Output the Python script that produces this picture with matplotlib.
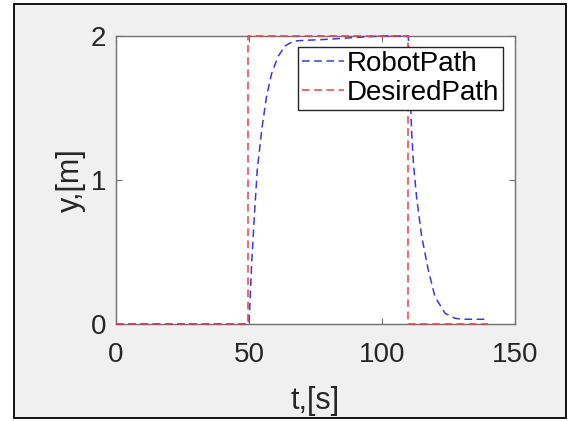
import matplotlib
matplotlib.use("Agg")
import matplotlib.pyplot as plt
from matplotlib.patches import Rectangle

# values
robot_t = [0, 50.0, 51.0, 52.0, 53.1, 54.8, 56.6, 58.5, 61.0, 63.5, 66.7, 71.1, 77.4,
           82.0, 90.0, 100.0, 106.0, 109.9, 111.1, 111.8, 113.0, 114.9, 117.4, 119.9,
           123.7, 127.4, 130.0, 140.0]
robot_y = [0, 0.0, 0.42, 0.745, 1.07, 1.35, 1.58, 1.74, 1.86, 1.93, 1.965, 1.97, 1.975,
           1.98, 1.99, 2.0, 2.0, 2.0, 1.35, 1.12, 0.88, 0.61, 0.375, 0.19,
           0.074, 0.04, 0.033, 0.033]
desired_t = [0, 49.6, 49.6, 109.7, 109.7, 140.0]
desired_y = [0, 0, 2, 2, 0, 0]

xticks = [0, 50, 100, 150]
yticks = [0, 1, 2]

plt.rcParams['font.family'] = ['Liberation Sans', 'DejaVu Sans']

W, H = 573, 421
fig = plt.figure(figsize=(W / 100, H / 100), dpi=100, facecolor='white')
# grey panel with black frame, as in the screenshot
fig.patches.append(Rectangle((14 / W, 1 - 418 / H), 552 / W, 414 / H,
                             transform=fig.transFigure, facecolor='#f0f0f0',
                             edgecolor='black', linewidth=1.3, zorder=-10))

ax = fig.add_axes([116 / W, 1 - 324 / H, 399 / W, 288 / H])
ax.set_zorder(1)
ax.set_facecolor('white')

ax.plot(robot_t, robot_y, color='#3a3ad8', linewidth=1.1, dashes=(5, 3),
        label='RobotPath', zorder=3, clip_on=False)
ax.plot(desired_t, desired_y, color='#e8404c', linewidth=1.1, dashes=(5, 3),
        label='DesiredPath', zorder=3, clip_on=False)

ax.set_xlim(0, 150)
ax.set_ylim(0, 2)
ax.set_xticks(xticks)
ax.set_yticks(yticks)

for s in ax.spines.values():
    s.set_color('#707070')
    s.set_linewidth(1.0)
ax.tick_params(direction='in', length=4, width=0.8, color='#707070',
               top=True, right=True, labelsize=20, labelcolor='#262626')
ax.tick_params(axis='x', pad=13)
ax.tick_params(axis='y', pad=7)

ax.set_xlabel('t,[s]', fontsize=22, color='#262626')
ax.set_ylabel('y,[m]', fontsize=22, color='#262626')
ax.xaxis.set_label_coords(0.5, -0.215)
ax.yaxis.set_label_coords(-0.075, 0.5)

leg = ax.legend(loc='upper right', bbox_to_anchor=(0.970, 0.963), borderaxespad=0,
                fontsize=20, handlelength=1.5, handletextpad=0.1, borderpad=0.15,
                labelspacing=0.1, fancybox=False, framealpha=1)
leg.set_zorder(5)
leg.get_frame().set_edgecolor('#262626')
leg.get_frame().set_linewidth(1.0)

fig.savefig('out.png', dpi=100, facecolor=fig.get_facecolor())
